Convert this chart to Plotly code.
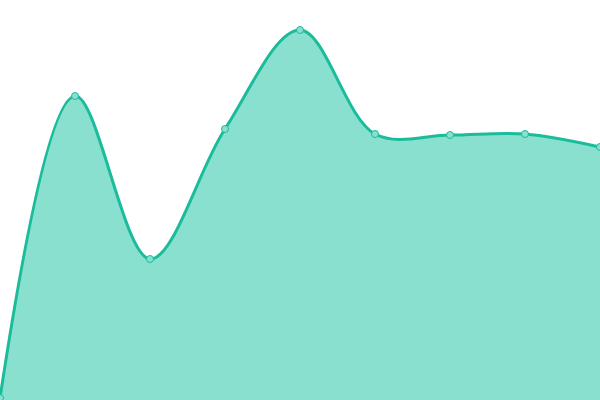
import plotly.graph_objects as go

# data (x index, value above the bottom edge)
x_vals = [0, 1, 2, 3, 4, 5, 6, 7, 8]
y_vals = [2, 304, 141, 271, 370, 266, 265, 266, 253]

line_color = "#1abc9c"
fill_color = "#8ae0cf"

fig = go.Figure()
fig.add_trace(go.Scatter(
    x=x_vals, y=y_vals,
    mode="lines+markers",
    line=dict(color=line_color, width=3, shape="spline", smoothing=1),
    fill="tozeroy",
    fillcolor=fill_color,
    marker=dict(size=7, color="#8ae0cf", line=dict(color=line_color, width=1)),
    cliponaxis=False,
    hoverinfo="x+y",
))

fig.update_layout(
    width=600, height=400,
    margin=dict(l=0, r=0, t=0, b=0),
    paper_bgcolor="white",
    plot_bgcolor="white",
    showlegend=False,
    xaxis=dict(range=[0, 8], visible=False, fixedrange=True),
    yaxis=dict(range=[0, 400], visible=False, fixedrange=True),
)

# drop the default page margin so the chart fills the window edge to edge
fig.write_html("out.html", config={"displayModeBar": False},
               post_script="document.body.style.margin='0';")
